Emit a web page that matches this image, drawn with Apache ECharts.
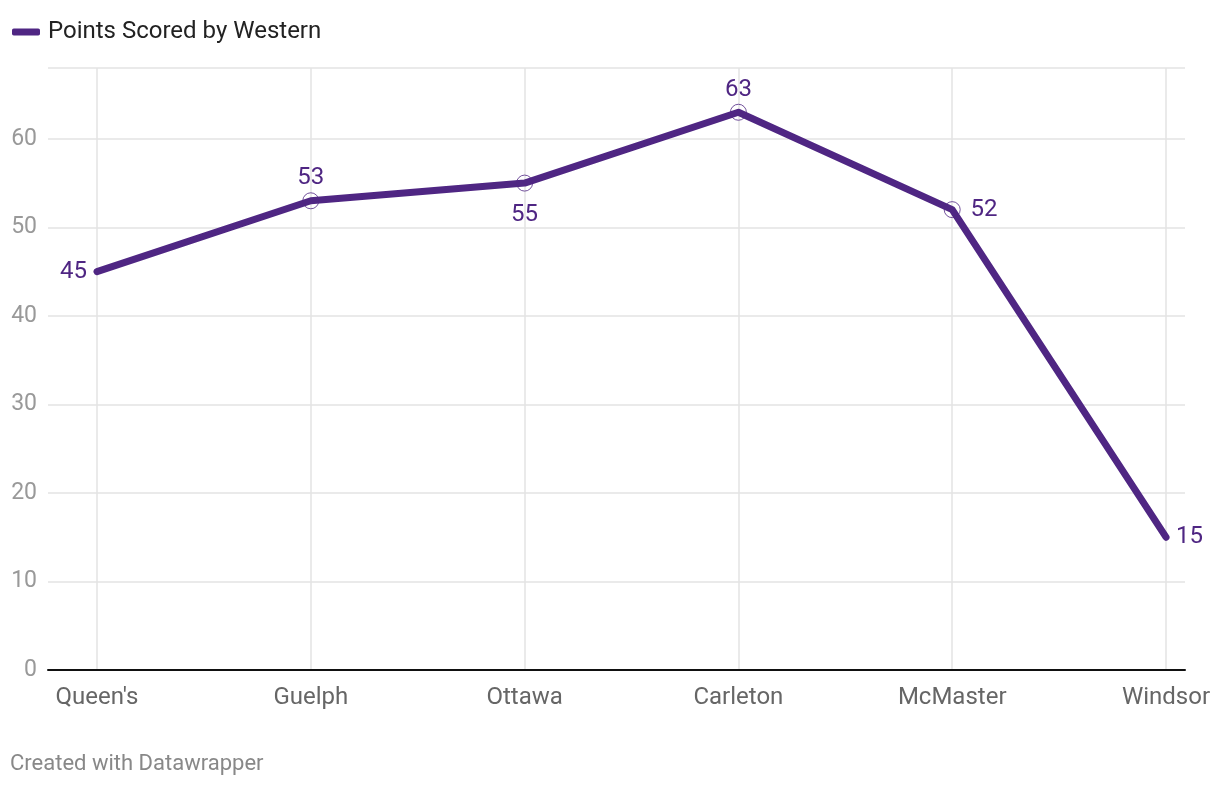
<!DOCTYPE html>
<html>
<head>
<meta charset="utf-8">
<script src="https://cdn.jsdelivr.net/npm/echarts@6/dist/echarts.min.js"></script>
<style>
html,body{margin:0;padding:0;background:#fff;}
#chart{width:1220px;height:786px;}
</style>
</head>
<body>
<div id="chart"></div>
<script>
const categories = ["Queen's", "Guelph", "Ottawa", "Carleton", "McMaster", "Windsor"];
const points = [45, 53, 55, 63, 52, 15];
const labelPositions = ['left', 'top', 'bottom', 'top', 'right', 'right'];
const labelDistances = [2, 2, 12, 2, 10, 2];
const showMarker = [false, true, true, true, true, false];
const yTicks = [0, 10, 20, 30, 40, 50, 60];

const PURPLE = '#4f2683';
const FONT = 'Roboto';

const chart = echarts.init(document.getElementById('chart'), null, {renderer: 'canvas'});

const seriesData = points.map((v, i) => ({
  value: v,
  itemStyle: showMarker[i]
    ? {color: 'rgba(0,0,0,0)', borderColor: PURPLE, borderWidth: 0.8}
    : {color: 'rgba(0,0,0,0)', borderColor: 'rgba(0,0,0,0)', borderWidth: 0},
  label: {position: labelPositions[i], distance: labelDistances[i]}
}));

const option = {
  backgroundColor: '#fff',
  animation: false,
  textStyle: {fontFamily: FONT},
  legend: {
    left: 12, top: 20, padding: 0,
    icon: 'roundRect',
    itemWidth: 28, itemHeight: 7,
    itemGap: 10,
    textStyle: {fontSize: 24, color: '#222', fontFamily: FONT, padding: [0, 0, 0, 3]},
    data: [{name: 'Points Scored by Western', itemStyle: {color: PURPLE, borderWidth: 0}}]
  },
  grid: [
    {left: 48, right: 35, top: 68, bottom: 116},
    {left: 97, right: 54, top: 68, bottom: 116}
  ],
  xAxis: [
    {
      gridIndex: 0, type: 'value', min: 0, max: 1,
      axisLine: {show: true, onZero: false, lineStyle: {color: '#111', width: 2}},
      axisTick: {show: false}, axisLabel: {show: false}, splitLine: {show: false}
    },
    {
      gridIndex: 1, type: 'category', data: categories, boundaryGap: false,
      axisLine: {show: false}, axisTick: {show: false},
      axisLabel: {color: '#666', fontSize: 24, margin: 16, fontFamily: FONT},
      splitLine: {show: true, lineStyle: {color: '#e3e3e3', width: 1.5}}
    }
  ],
  yAxis: [
    {
      gridIndex: 0, type: 'value', min: 0, max: 68, interval: 10,
      axisLine: {show: false}, axisTick: {show: false},
      axisLabel: {
        color: '#999', fontSize: 23, margin: 11, fontFamily: FONT,
        formatter: v => (yTicks.indexOf(v) >= 0 ? String(v) : '')
      },
      splitLine: {show: true, lineStyle: {color: '#e3e3e3', width: 1.5}}
    },
    {
      gridIndex: 1, type: 'value', min: 0, max: 68, interval: 10,
      axisLine: {show: false}, axisTick: {show: false},
      axisLabel: {show: false}, splitLine: {show: false}
    }
  ],
  series: [
    {
      name: 'Points Scored by Western',
      type: 'line',
      xAxisIndex: 1, yAxisIndex: 1,
      data: seriesData,
      symbol: 'circle', symbolSize: 16,
      showAllSymbol: true,
      color: PURPLE,
      lineStyle: {color: PURPLE, width: 7, cap: 'round', join: 'round'},
      label: {show: true, color: PURPLE, fontSize: 24, fontFamily: FONT},
      emphasis: {disabled: true},
      z: 3
    }
  ],
  graphic: [
    {
      type: 'text', left: 10, top: 753,
      style: {text: 'Created with Datawrapper', fill: '#888', fontSize: 22, fontFamily: FONT}
    }
  ]
};
chart.setOption(option);
</script>
</body>
</html>
